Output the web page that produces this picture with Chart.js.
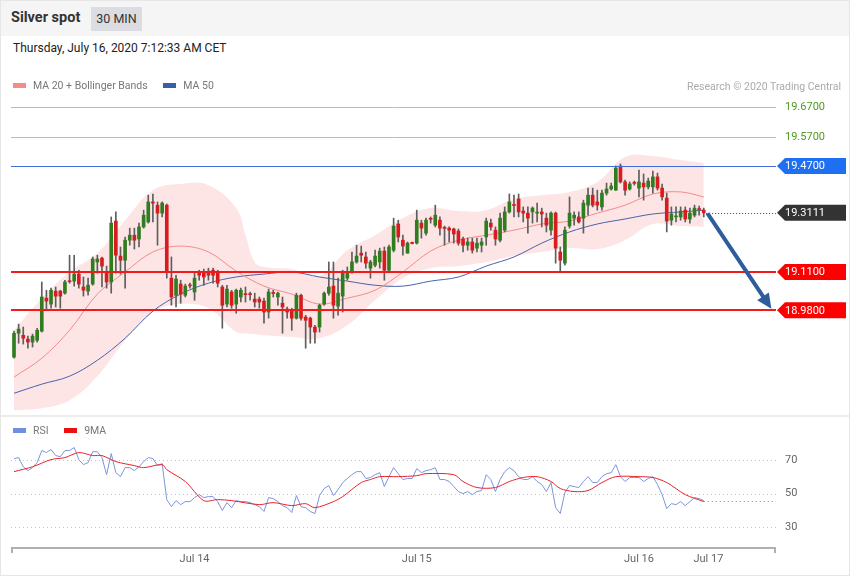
<!DOCTYPE html>
<html>
<head>
<meta charset="utf-8">
<script src="https://cdn.jsdelivr.net/npm/chart.js@4.4.0/dist/chart.umd.min.js"></script>
<style>
  body { margin: 0; background: #fff; font-family: Roboto, "Liberation Sans", Arial, sans-serif; }
  #wrap { position: relative; width: 850px; height: 576px; overflow: hidden; }
  #frame { position: absolute; left: 0; top: 0; width: 850px; height: 576px; box-sizing: border-box; border: 1px solid #e6e6e6; pointer-events: none; z-index: 5; }
  #head { position: absolute; left: 0; top: 0; width: 850px; height: 36px; background: #f5f5f5; }
  #title { position: absolute; left: 11px; top: 10px; font-size: 14.5px; font-weight: bold; color: #333; line-height: 16px; }
  #badge { position: absolute; left: 91px; top: 7px; width: 51px; height: 24px; line-height: 24px; background: #dcdde2; color: #333; font-size: 12.5px; text-align: center; }
  #date { position: absolute; left: 13px; top: 41px; font-size: 12px; color: #222; line-height: 14px; }
  .legend { position: absolute; font-size: 10.5px; color: #777; line-height: 12px; z-index: 3; }
  .legend i { display: inline-block; width: 13px; height: 5px; vertical-align: middle; margin-right: 7px; position: relative; top: -1px; }
  .legend span { margin-right: 10px; }
  #research { position: absolute; right: 9px; top: 80px; font-size: 10.5px; color: #aaa; z-index: 3; }
  #divider { position: absolute; left: 0; top: 415px; width: 850px; height: 2px; background: #ececec; }
  canvas { position: absolute; left: 0; }
  #priceChart { top: 70px; }
  #rsiChart { top: 417px; }
</style>
</head>
<body>
<div id="wrap">
  <div id="head"></div>
  <div id="title">Silver spot</div>
  <div id="badge">30 MIN</div>
  <div id="date">Thursday, July 16, 2020 7:12:33 AM CET</div>
  <canvas id="priceChart" width="850" height="345"></canvas>
  <div class="legend" style="left:13px;top:80px;"><i style="background:#f58c8c"></i><span>MA 20 + Bollinger Bands</span> <i style="background:#3b5ea8;margin-left:3px"></i><span>MA 50</span></div>
  <div id="research">Research © 2020 Trading Central</div>
  <div id="divider"></div>
  <canvas id="rsiChart" width="850" height="158"></canvas>
  <div class="legend" style="left:13px;top:425px;"><i style="background:#6f8fe0"></i><span>RSI</span> <i style="background:#e81010;margin-left:3px"></i><span>9MA</span></div>
  <div id="frame"></div>
</div>
<script>
// 30 min candles, Jul 13 -> Jul 16 2020
const opens = [
  18.821, 18.902, 18.895, 18.882, 18.872, 18.878, 18.909, 19.021, 19.001, 19.045,
  19.045, 19.038, 19.079, 19.079, 19.103, 19.059, 19.045, 19.069, 19.144, 19.157,
  19.110, 19.076, 19.283, 19.164, 19.150, 19.218, 19.235, 19.222, 19.263, 19.280,
  19.348, 19.337, 19.310, 19.337, 19.089, 19.031, 19.069, 19.031, 19.065, 19.042,
  19.110, 19.106, 19.113, 19.116, 19.106, 19.059, 19.001, 19.042, 19.001, 19.025,
  19.035, 19.035, 19.018, 19.018, 19.011, 18.974, 19.038, 19.025, 19.004, 18.984,
  18.977, 18.953, 19.031, 18.957, 18.953, 18.923, 18.923, 19.001, 19.038, 19.062,
  18.994, 19.028, 19.089, 19.110, 19.144, 19.174, 19.161, 19.123, 19.133, 19.144,
  19.181, 19.116, 19.184, 19.273, 19.218, 19.174, 19.208, 19.208, 19.276, 19.242,
  19.290, 19.269, 19.286, 19.259, 19.259, 19.256, 19.249, 19.222, 19.201, 19.212,
  19.191, 19.201, 19.229, 19.276, 19.252, 19.218, 19.252, 19.314, 19.337, 19.358,
  19.317, 19.310, 19.314, 19.310, 19.314, 19.293, 19.252, 19.310, 19.178, 19.140,
  19.266, 19.293, 19.297, 19.293, 19.337, 19.371, 19.348, 19.331, 19.378, 19.392,
  19.388, 19.470, 19.416, 19.392, 19.412, 19.395, 19.412, 19.399, 19.399, 19.433,
  19.395, 19.361, 19.286, 19.297, 19.297, 19.320, 19.290, 19.303, 19.324, 19.320
];
const highs = [
  18.909, 18.933, 18.923, 18.892, 18.899, 18.919, 19.076, 19.048, 19.055, 19.059,
  19.048, 19.082, 19.167, 19.167, 19.116, 19.093, 19.089, 19.161, 19.167, 19.161,
  19.130, 19.297, 19.314, 19.195, 19.229, 19.259, 19.259, 19.276, 19.320, 19.371,
  19.375, 19.348, 19.348, 19.341, 19.161, 19.099, 19.082, 19.069, 19.072, 19.110,
  19.116, 19.120, 19.123, 19.123, 19.116, 19.065, 19.065, 19.048, 19.052, 19.055,
  19.059, 19.042, 19.038, 19.025, 19.021, 19.052, 19.048, 19.042, 19.025, 18.991,
  18.987, 19.038, 19.035, 18.963, 18.957, 18.929, 19.001, 19.042, 19.144, 19.144,
  19.089, 19.116, 19.127, 19.178, 19.201, 19.198, 19.178, 19.150, 19.184, 19.191,
  19.195, 19.201, 19.293, 19.286, 19.235, 19.212, 19.212, 19.320, 19.286, 19.293,
  19.297, 19.337, 19.297, 19.266, 19.263, 19.259, 19.256, 19.229, 19.225, 19.225,
  19.225, 19.225, 19.293, 19.290, 19.263, 19.310, 19.331, 19.375, 19.371, 19.375,
  19.331, 19.331, 19.331, 19.344, 19.327, 19.310, 19.314, 19.314, 19.195, 19.263,
  19.365, 19.314, 19.314, 19.354, 19.395, 19.395, 19.388, 19.388, 19.412, 19.412,
  19.470, 19.477, 19.422, 19.416, 19.419, 19.456, 19.443, 19.429, 19.453, 19.446,
  19.409, 19.378, 19.331, 19.331, 19.331, 19.331, 19.327, 19.337, 19.334, 19.327
];
const lows = [
  18.817, 18.868, 18.865, 18.851, 18.855, 18.872, 18.906, 18.980, 18.987, 18.991,
  18.987, 19.035, 19.072, 19.062, 19.055, 19.028, 19.031, 19.065, 19.106, 19.059,
  19.055, 19.038, 19.106, 19.103, 19.055, 19.201, 19.188, 19.195, 19.259, 19.276,
  19.280, 19.201, 19.297, 19.089, 18.997, 18.991, 19.004, 19.025, 19.055, 19.014,
  19.082, 19.065, 19.082, 19.072, 19.059, 18.919, 18.991, 18.987, 18.970, 19.008,
  19.008, 19.014, 18.991, 18.987, 18.936, 18.953, 19.025, 18.997, 18.902, 18.953,
  18.912, 18.950, 18.946, 18.851, 18.868, 18.868, 18.906, 18.997, 19.031, 18.953,
  18.963, 18.974, 19.082, 19.106, 19.140, 19.144, 19.123, 19.089, 19.127, 19.123,
  19.082, 19.110, 19.178, 19.212, 19.167, 19.174, 19.205, 19.205, 19.225, 19.235,
  19.276, 19.263, 19.235, 19.201, 19.212, 19.208, 19.201, 19.178, 19.184, 19.174,
  19.178, 19.178, 19.201, 19.252, 19.201, 19.212, 19.246, 19.310, 19.297, 19.297,
  19.280, 19.242, 19.276, 19.280, 19.263, 19.246, 19.235, 19.140, 19.110, 19.133,
  19.259, 19.269, 19.276, 19.242, 19.303, 19.331, 19.320, 19.320, 19.371, 19.388,
  19.387, 19.412, 19.371, 19.388, 19.405, 19.365, 19.354, 19.392, 19.378, 19.388,
  19.354, 19.246, 19.269, 19.280, 19.286, 19.280, 19.276, 19.297, 19.303, 19.297
];
const closes = [
  18.902, 18.916, 18.885, 18.872, 18.892, 18.912, 19.025, 19.011, 19.048, 19.028,
  19.028, 19.076, 19.077, 19.103, 19.069, 19.048, 19.065, 19.154, 19.154, 19.130,
  19.076, 19.276, 19.167, 19.150, 19.218, 19.235, 19.218, 19.263, 19.303, 19.348,
  19.344, 19.310, 19.344, 19.110, 19.025, 19.086, 19.035, 19.062, 19.063, 19.089,
  19.099, 19.093, 19.099, 19.099, 19.072, 18.997, 19.052, 18.997, 19.048, 19.048,
  19.033, 19.033, 19.008, 19.008, 18.974, 19.042, 19.037, 19.038, 18.991, 18.974,
  18.953, 19.031, 18.953, 18.946, 18.923, 18.906, 18.997, 19.038, 19.059, 18.997,
  19.038, 19.110, 19.106, 19.144, 19.164, 19.167, 19.140, 19.144, 19.164, 19.181,
  19.116, 19.195, 19.266, 19.229, 19.198, 19.208, 19.207, 19.286, 19.259, 19.286,
  19.289, 19.303, 19.259, 19.258, 19.252, 19.239, 19.208, 19.201, 19.212, 19.184,
  19.208, 19.212, 19.283, 19.263, 19.222, 19.293, 19.314, 19.348, 19.336, 19.314,
  19.310, 19.293, 19.327, 19.311, 19.307, 19.269, 19.310, 19.191, 19.150, 19.252,
  19.310, 19.303, 19.280, 19.344, 19.371, 19.337, 19.337, 19.378, 19.392, 19.402,
  19.463, 19.416, 19.388, 19.409, 19.411, 19.416, 19.399, 19.419, 19.433, 19.395,
  19.365, 19.283, 19.307, 19.300, 19.317, 19.290, 19.310, 19.327, 19.322, 19.311
];

// moving averages, read every few candles
const maIdx = [0, 6, 12, 18, 24, 30, 36, 42, 48, 54, 60, 66, 72, 78, 84, 90, 96, 102, 108, 114, 120, 126, 132, 138, 144, 149];
const ma20 = [18.753, 18.817, 18.912, 19.035, 19.110, 19.178, 19.198, 19.178, 19.113, 19.062, 19.035, 19.001, 19.021,
              19.048, 19.110, 19.181, 19.218, 19.235, 19.252, 19.273, 19.283, 19.310, 19.337, 19.375, 19.382, 19.365];
const ma50 = [18.698, 18.729, 18.756, 18.810, 18.885, 18.977, 19.035, 19.072, 19.093, 19.103, 19.110, 19.093, 19.079,
              19.065, 19.062, 19.079, 19.093, 19.130, 19.161, 19.208, 19.246, 19.273, 19.290, 19.307, 19.314, 19.320];

// bollinger bands
const bandIdx = [0, 6, 12, 18, 24, 30, 36, 42, 48, 50, 52, 54, 60, 66, 72, 78, 84, 90, 96, 102, 108, 114, 120, 126, 132, 138, 144, 149];
const bandUpper = [18.912, 19.021, 19.110, 19.174, 19.286, 19.388, 19.409, 19.405, 19.327, 19.235, 19.144, 19.127, 19.120, 19.096,
                   19.184, 19.235, 19.293, 19.327, 19.317, 19.320, 19.358, 19.371, 19.382, 19.416, 19.501, 19.504, 19.490, 19.480];
const bandLower = [18.640, 18.647, 18.674, 18.756, 18.878, 18.974, 19.001, 18.987, 18.906, 18.902, 18.899, 18.895, 18.889, 18.885,
                   18.929, 19.014, 19.089, 19.123, 19.130, 19.144, 19.164, 19.178, 19.191, 19.188, 19.218, 19.273, 19.266, 19.263];

// RSI, one value per candle
const rsi = [
  70.9, 71.5, 66, 63.7, 65.5, 68.5, 75.7, 74.5, 76.3, 72.7,
  72, 75.7, 75.7, 77.5, 70.3, 67.3, 68.5, 75, 75, 71.5,
  61.3, 73.9, 62.5, 60.1, 65.5, 65.5, 63.7, 66, 69.1, 71.5,
  70.9, 66.7, 67.9, 46.4, 42.2, 45.8, 43.4, 45.2, 45.2, 47.6,
  49.4, 47.6, 48.2, 48.2, 45.2, 39.9, 44.6, 41.6, 45.8, 45.2,
  45.2, 44.6, 43.4, 42.2, 39.3, 47.6, 47, 45.2, 42.8, 41.6,
  38.7, 48.8, 42.2, 41.6, 39.3, 38.1, 48.8, 53, 54.8, 48.8,
  52.4, 56.6, 59, 61.3, 63.1, 63.1, 59, 59.6, 61.3, 62.5,
  54.2, 60.1, 65.5, 61.9, 58.4, 59, 59, 64.9, 62.5, 63.7,
  64.3, 65.5, 58.4, 58.4, 57.2, 54.2, 51.2, 50, 51.2, 49.4,
  51.2, 51.8, 61.3, 58.4, 51.2, 58.4, 63.1, 65.5, 63.7, 60.1,
  58.4, 58.4, 60.1, 57.2, 55.4, 51.2, 56.6, 41.6, 38.1, 50.6,
  54.8, 54.2, 53.6, 57.2, 60.1, 56.6, 56.6, 60.1, 61.9, 62.5,
  67.3, 60.1, 57.2, 59.6, 59.6, 59.6, 57.2, 59, 60.1, 55.4,
  49.4, 41, 44, 43.4, 45.2, 42.8, 45.2, 47.6, 47, 45.8
];
const rsiMaIdx = [0, 4, 8, 11, 14, 17, 19, 22, 26, 28, 32, 33, 37, 41, 44, 47, 53, 56, 60, 63, 65, 69, 71, 75, 77, 79,
                  83, 87, 89, 95, 97, 100, 104, 107, 110, 113, 116, 118, 121, 124, 127, 130, 135, 138, 141, 145, 149];
const rsiMa = [63.1, 66, 70.3, 71.5, 74.5, 72.7, 72.7, 69.1, 66.7, 65.5, 67.3, 64.3, 57.2, 45.8, 46.4, 45.8, 43.4, 44.6,
               42.8, 44, 41.6, 45.2, 48.2, 56.6, 58.4, 60.1, 60.1, 60.7, 61.9, 61.3, 57.2, 53.6, 53.6, 57.2, 59.6, 60.1,
               57.2, 53, 51.2, 51.8, 56.6, 60.1, 60.1, 59.6, 56.6, 49.4, 45.2];
const rsiTicks = [30, 50, 70];

// levels from the analysis
const resistances = [19.67, 19.57];
const pivot = 19.47;
const supports = [19.11, 18.98];
const lastPrice = 19.3111;
const arrowFrom = { x: 149.8, y: 19.309 };
const arrowTo = { x: 163.6, y: 18.985 };

// x axis: candle index
const dayTicks = [39, 87, 135, 150];
const dayLabels = ['Jul 14', 'Jul 15', 'Jul 16', 'Jul 17'];
const xMin = -0.65, xMax = 164.6;

Chart.defaults.font.family = 'Roboto, "Liberation Sans", Arial, sans-serif';
Chart.defaults.animation = false;

const pts = (idx, vals) => idx.map((v, k) => ({ x: v, y: vals[k] }));

function tag(ctx, yPx, color, text) {
  ctx.fillStyle = color;
  ctx.beginPath();
  ctx.moveTo(777, yPx);
  ctx.lineTo(785, yPx - 8);
  ctx.lineTo(846, yPx - 8);
  ctx.lineTo(846, yPx + 8);
  ctx.lineTo(785, yPx + 8);
  ctx.closePath();
  ctx.fill();
  ctx.fillStyle = '#fff';
  ctx.fillText(text, 785, yPx + 0.5);
}

const priceOverlay = {
  id: 'priceOverlay',
  afterDatasetsDraw(chart) {
    const { ctx, chartArea: a, scales: { x, y } } = chart;
    ctx.save();
    function hline(v, color, w) {
      const py = Math.round(y.getPixelForValue(v)) + (w % 2 ? 0.5 : 0);
      ctx.strokeStyle = color; ctx.lineWidth = w;
      ctx.beginPath(); ctx.moveTo(a.left, py); ctx.lineTo(a.right, py); ctx.stroke();
    }
    resistances.forEach(v => hline(v, '#a4d384', 1));
    hline(pivot, '#3f6fd6', 1);
    supports.forEach(v => hline(v, '#f21b1b', 2));

    // last price dotted line
    const ly = Math.round(y.getPixelForValue(lastPrice)) + 0.5;
    ctx.strokeStyle = '#444'; ctx.lineWidth = 1; ctx.setLineDash([1, 2]);
    ctx.beginPath(); ctx.moveTo(x.getPixelForValue(closes.length - 0.5), ly); ctx.lineTo(a.right, ly); ctx.stroke();
    ctx.setLineDash([]);

    // arrow
    const x0 = x.getPixelForValue(arrowFrom.x), y0 = y.getPixelForValue(arrowFrom.y);
    const x1 = x.getPixelForValue(arrowTo.x), y1 = y.getPixelForValue(arrowTo.y);
    const ang = Math.atan2(y1 - y0, x1 - x0);
    const head = 15;
    ctx.strokeStyle = '#2e5d9e'; ctx.fillStyle = '#2e5d9e'; ctx.lineWidth = 4;
    ctx.beginPath(); ctx.moveTo(x0, y0);
    ctx.lineTo(x1 - Math.cos(ang) * head * 0.8, y1 - Math.sin(ang) * head * 0.8); ctx.stroke();
    ctx.beginPath();
    ctx.moveTo(x1, y1);
    ctx.lineTo(x1 - head * Math.cos(ang) + 7 * Math.sin(ang), y1 - head * Math.sin(ang) - 7 * Math.cos(ang));
    ctx.lineTo(x1 - head * Math.cos(ang) - 7 * Math.sin(ang), y1 - head * Math.sin(ang) + 7 * Math.cos(ang));
    ctx.closePath(); ctx.fill();
    ctx.restore();
  },
  afterDraw(chart) {
    const { ctx, scales: { y } } = chart;
    ctx.save();
    ctx.font = '11px Roboto, "Liberation Sans", Arial, sans-serif';
    ctx.textBaseline = 'middle';
    ctx.fillStyle = '#4f9a1f';
    resistances.forEach(v => ctx.fillText(v.toFixed(4), 785, y.getPixelForValue(v) + 0.5));
    tag(ctx, y.getPixelForValue(pivot), '#1f6ff2', pivot.toFixed(4));
    tag(ctx, y.getPixelForValue(lastPrice), '#333333', lastPrice.toFixed(4));
    supports.forEach(v => tag(ctx, y.getPixelForValue(v), '#ff0000', v.toFixed(4)));
    ctx.restore();
  }
};

new Chart(document.getElementById('priceChart'), {
  type: 'bar',
  data: {
    datasets: [
      { type: 'line', data: pts(bandIdx, bandUpper), borderWidth: 0, pointRadius: 0, tension: 0.4,
        fill: '+1', backgroundColor: 'rgba(248,160,160,0.28)', order: 6 },
      { type: 'line', data: pts(bandIdx, bandLower), borderWidth: 0, pointRadius: 0, tension: 0.4, fill: false, order: 6 },
      { type: 'line', data: pts(maIdx, ma20), borderColor: '#f38a8a', borderWidth: 1, pointRadius: 0, tension: 0.35, order: 5 },
      { type: 'line', data: pts(maIdx, ma50), borderColor: '#4863a8', borderWidth: 1, pointRadius: 0, tension: 0.35, order: 5 },
      { data: lows.map((l, i) => ({ x: i, y: [l, highs[i]] })), backgroundColor: '#5e5e5e',
        barThickness: 1, grouped: false, order: 3 },
      { data: opens.map((o, i) => ({ x: i, y: [o, closes[i]] })),
        backgroundColor: opens.map((o, i) => closes[i] >= o ? '#2f7d1f' : '#d81b1f'),
        barThickness: 3, minBarLength: 1, grouped: false, order: 2 }
    ]
  },
  options: {
    responsive: false,
    layout: { padding: { left: 11, right: 74, top: 25, bottom: 3 } },
    plugins: { legend: { display: false }, tooltip: { enabled: false } },
    scales: {
      x: { type: 'linear', min: xMin, max: xMax, offset: false, display: false },
      y: { type: 'linear', min: 18.6344, max: 19.7112, display: false }
    }
  },
  plugins: [priceOverlay]
});

const rsiOverlay = {
  id: 'rsiOverlay',
  beforeDatasetsDraw(chart) {
    const { ctx, chartArea: a, scales: { y } } = chart;
    ctx.save();
    ctx.strokeStyle = '#c4c4c4'; ctx.lineWidth = 1; ctx.setLineDash([1, 3]);
    rsiTicks.forEach(v => {
      const py = Math.round(y.getPixelForValue(v)) + 0.5;
      ctx.beginPath(); ctx.moveTo(a.left, py); ctx.lineTo(a.right, py); ctx.stroke();
    });
    ctx.restore();
  },
  afterDatasetsDraw(chart) {
    const { ctx, chartArea: a, scales: { x, y } } = chart;
    ctx.save();
    const last = rsi.length - 1;
    const py = Math.round(y.getPixelForValue(rsi[last])) + 0.5;
    ctx.strokeStyle = '#6f8fd8'; ctx.lineWidth = 1; ctx.setLineDash([1, 3]);
    ctx.beginPath(); ctx.moveTo(x.getPixelForValue(last), py); ctx.lineTo(a.right, py); ctx.stroke();
    ctx.setLineDash([]);
    // axis line with end ticks
    ctx.strokeStyle = '#b0b0b0'; ctx.lineWidth = 2;
    ctx.beginPath(); ctx.moveTo(a.left, a.bottom); ctx.lineTo(a.right, a.bottom); ctx.stroke();
    ctx.beginPath();
    ctx.moveTo(a.left + 1, a.bottom); ctx.lineTo(a.left + 1, a.bottom + 5);
    ctx.moveTo(a.right - 1, a.bottom); ctx.lineTo(a.right - 1, a.bottom + 5);
    ctx.stroke();
    ctx.restore();
  }
};

new Chart(document.getElementById('rsiChart'), {
  type: 'line',
  data: {
    datasets: [
      { data: rsi.map((v, i) => ({ x: i, y: v })), borderColor: '#7b95dc', borderWidth: 1, pointRadius: 0, tension: 0, order: 2 },
      { data: pts(rsiMaIdx, rsiMa), borderColor: '#e8232a', borderWidth: 1, pointRadius: 0, tension: 0.3, order: 1 }
    ]
  },
  options: {
    responsive: false,
    layout: { padding: { left: 11, right: 0, top: 23, bottom: 0 } },
    plugins: { legend: { display: false }, tooltip: { enabled: false } },
    scales: {
      x: {
        type: 'linear', min: xMin, max: xMax,
        grid: { display: false, drawTicks: false }, border: { display: false },
        afterBuildTicks: s => { s.ticks = dayTicks.map(v => ({ value: v })); },
        afterFit: s => { s.height = 27; },
        ticks: { autoSkip: false, maxRotation: 0, padding: 5, color: '#666', font: { size: 11 },
                 callback: v => dayLabels[dayTicks.indexOf(v)] }
      },
      y: {
        type: 'linear', position: 'right', min: 17.5, max: 82,
        grid: { display: false, drawTicks: false }, border: { display: false },
        afterBuildTicks: s => { s.ticks = rsiTicks.map(v => ({ value: v })); },
        afterFit: s => { s.width = 74; },
        ticks: { padding: 9, color: '#666', font: { size: 11 } }
      }
    }
  },
  plugins: [rsiOverlay]
});
</script>
</body>
</html>
